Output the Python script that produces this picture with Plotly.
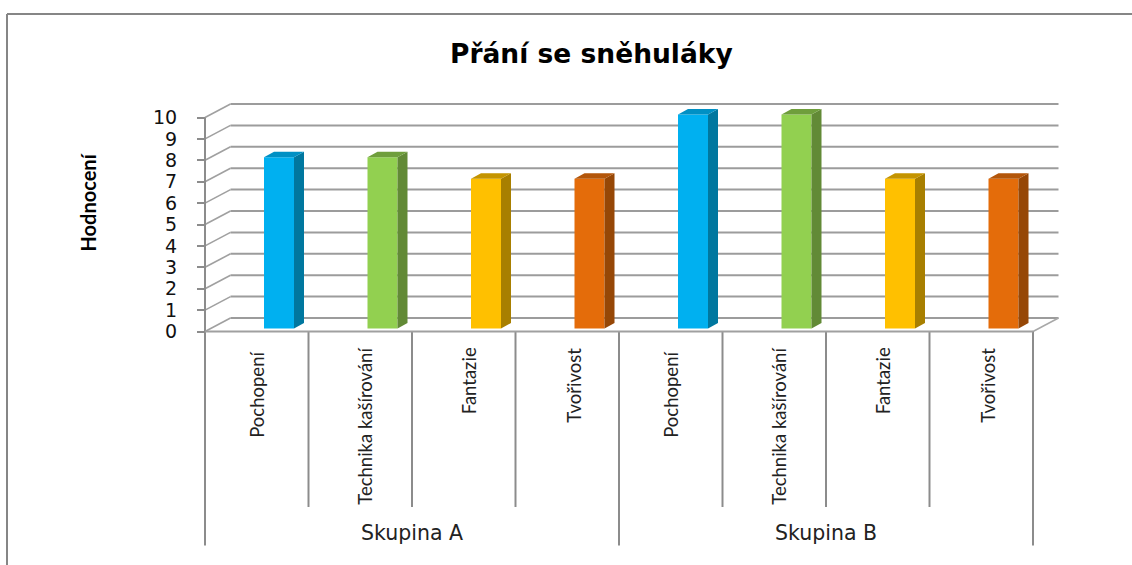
import plotly.graph_objects as go

metrics = ["Pochopení", "Technika kašírování", "Fantazie", "Tvořivost"]
groups = ["Skupina A", "Skupina B"]
values = [8, 8, 7, 7, 10, 10, 7, 7]
categories = metrics * 2
y_ticks = list(range(0, 11))
title_text = "Přání se sněhuláky"
y_title = "Hodnocení"

front_colors = ["#00B0F0", "#92D050", "#FFC000", "#E46C0A"]
side_colors = ["#00779F", "#628A36", "#A87F00", "#964706"]
top_colors = ["#0090C4", "#6F9E3C", "#C49400", "#B3560A"]

label_dx = [0, 4, 5, 6]       # pixel nudges of the category labels
label_top = [350, 346, 345, 346]

GRAY = "#8C8C8C"
W, H = 1132, 565
L, R, T, B = 205, 1033, 117.5, 331.5
PX = (R - L) / 8            # pixels per category
PY = (B - T) / 10           # pixels per value unit
WALL_DX, WALL_DY = 25.5 / PX, 13.5 / PY
BAR_W = 30 / PX
BAR_SHIFT = 59 / PX
BAR_LIFT = 3 / PY
BAR_DX, BAR_DY = 10 / PX, 5.5 / PY
n = len(categories)


def pxx(p):
    return p / W


def pxy(p):
    return 1 - p / H


fig = go.Figure()
shapes = []


def add_line(x0, y0, x1, y1, width=2, color=GRAY):
    shapes.append(dict(type="line", xref="x", yref="y", layer="below", x0=x0, y0=y0, x1=x1, y1=y1,
                       line=dict(color=color, width=width)))


# walls and floor
for t in y_ticks:
    add_line(0, t, WALL_DX, t + WALL_DY, 1.6, "#A0A0A0")
    add_line(WALL_DX, t + WALL_DY, n + WALL_DX, t + WALL_DY, 2, "#9C9C9C")
add_line(n, 0, n + WALL_DX, WALL_DY, 1.5, "#A8A8A8")

# axis and separators below the floor
add_line(0, 0, 0, 10, 2, GRAY)
for i in range(n + 1):
    add_line(i, 0, i, -10.0 if i % 4 == 0 else -8.2, 2, GRAY)
add_line(0, 0, n, 0, 2, "#A0A0A0")

# page frame
for x0, y0, x1, y1 in [(7, 14, W, 14), (7, 14, 7, H)]:
    shapes.append(dict(type="line", xref="paper", yref="paper", x0=pxx(x0), x1=pxx(x1), y0=pxy(y0), y1=pxy(y1),
                       line=dict(color="#868686", width=2)))

# bar fronts
fig.add_trace(go.Bar(
    x=[i + BAR_SHIFT for i in range(n)],
    y=values, base=[BAR_LIFT] * n, width=BAR_W,
    offset=0,
    marker=dict(color=[front_colors[i % 4] for i in range(n)], line=dict(width=0)),
    showlegend=False, hovertext=categories,
))

# bar side and top faces
for i, v in enumerate(values):
    x0 = i + BAR_SHIFT
    x1 = x0 + BAR_W
    top = v + BAR_LIFT
    fig.add_trace(go.Scatter(
        x=[x1, x1 + BAR_DX, x1 + BAR_DX, x1, x1],
        y=[BAR_LIFT, BAR_LIFT + BAR_DY, top + BAR_DY, top, BAR_LIFT],
        mode="lines", fill="toself", fillcolor=side_colors[i % 4], line=dict(width=0),
        hoverinfo="skip", showlegend=False))
    fig.add_trace(go.Scatter(
        x=[x0, x1, x1 + BAR_DX, x0 + BAR_DX, x0],
        y=[top, top, top + BAR_DY, top + BAR_DY, top],
        mode="lines", fill="toself", fillcolor=top_colors[i % 4], line=dict(width=0),
        hoverinfo="skip", showlegend=False))

ann = []
for i, c in enumerate(categories):
    ann.append(dict(x=i + 0.5 + label_dx[i % 4] / PX, y=pxy(label_top[i % 4]), xref="x", yref="paper",
                    text=c, textangle=-90, showarrow=False, xanchor="center", yanchor="top",
                    font=dict(family="Lato", size=18.5, color="#222222")))
for j, g in enumerate(groups):
    ann.append(dict(x=4 * j + 2, y=pxy(533), xref="x", yref="paper", text=g, showarrow=False,
                    xanchor="center", yanchor="middle",
                    font=dict(family="DejaVu Sans", size=20.5, color="#222222")))
ann.append(dict(x=pxx(87), y=pxy(202.5), xref="paper", yref="paper", text=y_title, textangle=-90,
                showarrow=False, xanchor="center", yanchor="middle",
                font=dict(family="Lato", size=20, weight=700, color="#000000")))
ann.append(dict(x=pxx(591), y=pxy(54), xref="paper", yref="paper", text="<b>%s</b>" % title_text,
                showarrow=False, xanchor="center", yanchor="middle",
                font=dict(family="DejaVu Sans", size=26.5, color="#000000")))

fig.update_layout(
    width=W, height=H, autosize=False,
    margin=dict(l=0, r=0, t=0, b=0, pad=0),
    paper_bgcolor="white", plot_bgcolor="rgba(0,0,0,0)",
    barmode="overlay", showlegend=False,
    annotations=ann, shapes=shapes,
    xaxis=dict(range=[-L / PX, (W - L) / PX], visible=False, fixedrange=True),
    yaxis=dict(range=[-(H - B) / PY, B / PY], anchor="free", position=L / W,
               tickvals=y_ticks, ticktext=[str(t) for t in y_ticks],
               showgrid=False, zeroline=False, showline=False,
               ticks="outside", ticklen=8, tickcolor=GRAY, tickwidth=1.5, ticklabelstandoff=16,
               tickfont=dict(family="DejaVu Sans", size=19, color="#111111"), fixedrange=True),
)

fig.write_html("out.html", config=dict(displayModeBar=False),
               post_script="document.body.style.margin='0';document.body.style.overflow='hidden';")
